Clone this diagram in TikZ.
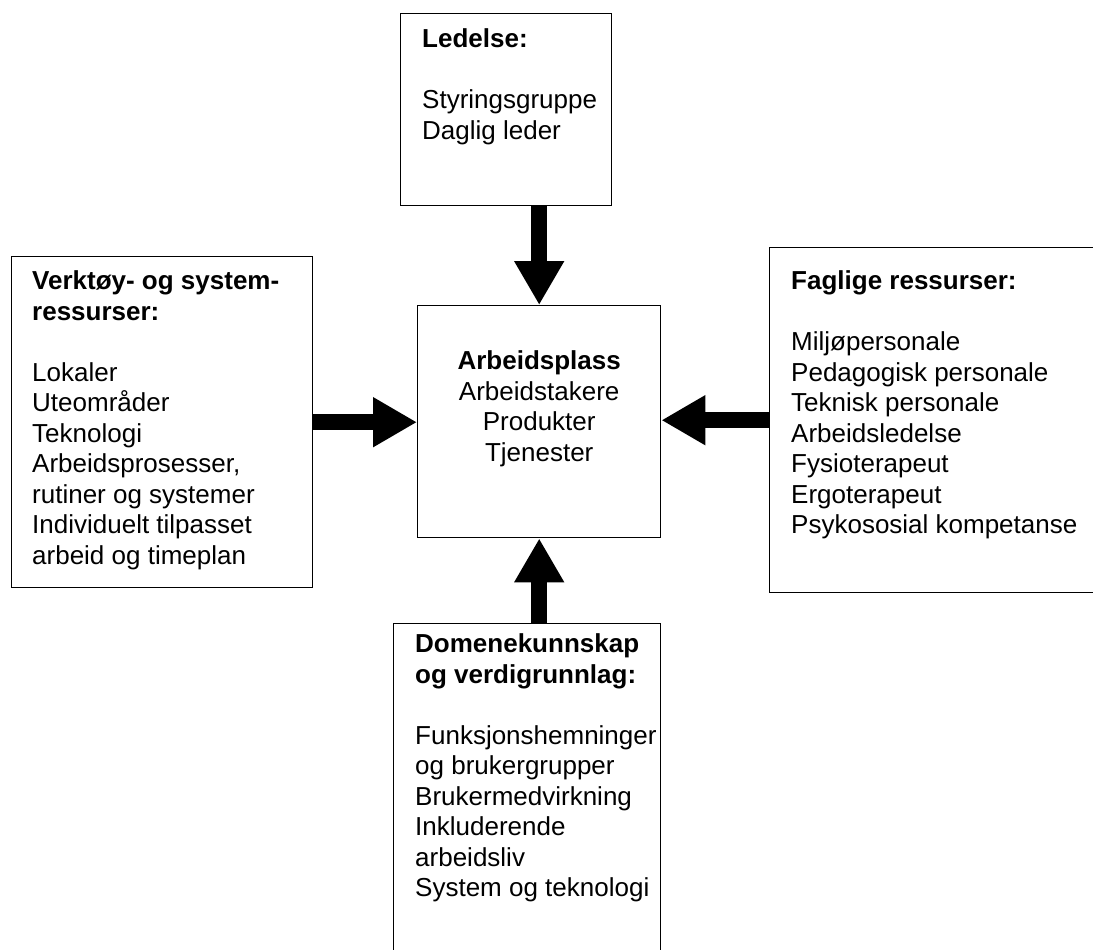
\documentclass[tikz,border=0pt]{standalone}
\usepackage{fontspec}
\setmainfont{Liberation Sans}
\usepackage{tikz}
\usetikzlibrary{arrows.meta,calc,positioning}

\begin{document}
\begin{tikzpicture}[
    x=1pt, y=-1pt,
    nosep/.style={inner sep=0},
    box/.style={draw=black, line width=1.4pt, rectangle, anchor=north west, nosep},
    txt/.style={nosep, anchor=north west, align=left, execute at begin node=\strut,
        font=\fontsize{26pt}{30.5pt}\selectfont},
    bigarrow/.style={line width=15.5pt, -{Triangle[width=47pt, length=44pt]}}]
\useasboundingbox (0,0) rectangle (1093,950);
\clip (0,0) rectangle (1093,950);

\node[box, minimum width=211pt, minimum height=192pt] (ledelse) at (400,13) {};
\node[box, minimum width=301pt, minimum height=331pt] (verktoy) at (11,256) {};
\node[box, minimum width=243pt, minimum height=232pt] (arbeid)  at (417,305) {};
\node[box, minimum width=360pt, minimum height=345pt] (faglig)  at (769,247) {};
\node[box, minimum width=267pt, minimum height=360pt] (domene)  at (393,623) {};

\node[txt] (ledelse-txt) at ([xshift=22pt, yshift=-15.6pt]ledelse.north west)
    {\textbf{Ledelse:}\\[30.5pt] Styringsgruppe\\ Daglig leder};
\node[txt] (verktoy-txt) at ([xshift=21pt, yshift=-14.6pt]verktoy.north west)
    {\textbf{Verktøy- og system-}\\ \textbf{ressurser:}\\[30.5pt] Lokaler\\ Uteområder\\ Teknologi\\
     Arbeidsprosesser,\\ rutiner og systemer\\ Individuelt tilpasset\\ arbeid og timeplan};
\node[txt, anchor=north, align=center] (arbeid-txt) at ([yshift=-45.6pt]arbeid.north)
    {\textbf{Arbeidsplass}\\ Arbeidstakere\\ Produkter\\ Tjenester};
\node[txt] (faglig-txt) at ([xshift=22pt, yshift=-23.6pt]faglig.north west)
    {\textbf{Faglige ressurser:}\\[30.5pt] Miljøpersonale\\ Pedagogisk personale\\ Teknisk personale\\
     Arbeidsledelse\\ Fysioterapeut\\ Ergoterapeut\\ Psykososial kompetanse};
\node[txt] (domene-txt) at ([xshift=22pt, yshift=-10.6pt]domene.north west)
    {\textbf{Domenekunnskap}\\ \textbf{og verdigrunnlag:}\\[30.5pt] Funksjonshemninger\\ og brukergrupper\\
     Brukermedvirkning\\ Inkluderende\\ arbeidsliv\\ System og teknologi};

\draw[bigarrow] (ledelse.south -| arbeid.north) -- (arbeid.north);
\draw[bigarrow] (verktoy.east) -- (verktoy.east -| arbeid.west);
\draw[bigarrow] (faglig.west) -- (faglig.west -| arbeid.east);
\draw[bigarrow] (domene.north -| arbeid.south) -- (arbeid.south);

\end{tikzpicture}
\end{document}
